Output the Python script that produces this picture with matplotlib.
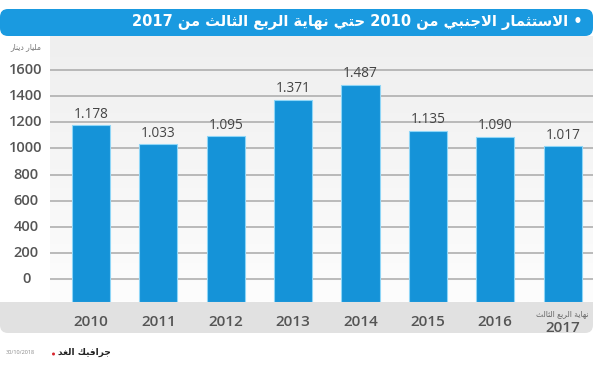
import matplotlib
matplotlib.use("Agg")
import matplotlib.pyplot as plt
import numpy as np
from matplotlib.patches import FancyBboxPatch, Rectangle, Circle

plt.rcParams['font.family'] = ['Open Sans', 'DejaVu Sans']

# البيانات
years = ['2010', '2011', '2012', '2013', '2014', '2015', '2016', '2017']
values = [1178, 1033, 1095, 1371, 1487, 1135, 1090, 1017]
value_labels = ['1.178', '1.033', '1.095', '1.371', '1.487', '1.135', '1.090', '1.017']
yticks = [0, 200, 400, 600, 800, 1000, 1200, 1400, 1600]

title = '• الاستثمار الاجنبي من 2010 حتي نهاية الربع الثالث من 2017'
unit = 'مليار دينار'
last_note = 'نهاية الربع الثالث'
credit = 'جرافيك الغد'
stamp = '30/10/2018'

# تشكيل النص العربي يدويا (matplotlib لا يدعم التشكيل ولا الاتجاه)
FORMS = {
    'ء': (0xFE80, 1), 'آ': (0xFE81, 2), 'أ': (0xFE83, 2), 'ؤ': (0xFE85, 2),
    'إ': (0xFE87, 2), 'ئ': (0xFE89, 4), 'ا': (0xFE8D, 2), 'ب': (0xFE8F, 4),
    'ة': (0xFE93, 2), 'ت': (0xFE95, 4), 'ث': (0xFE99, 4), 'ج': (0xFE9D, 4),
    'ح': (0xFEA1, 4), 'خ': (0xFEA5, 4), 'د': (0xFEA9, 2), 'ذ': (0xFEAB, 2),
    'ر': (0xFEAD, 2), 'ز': (0xFEAF, 2), 'س': (0xFEB1, 4), 'ش': (0xFEB5, 4),
    'ص': (0xFEB9, 4), 'ض': (0xFEBD, 4), 'ط': (0xFEC1, 4), 'ظ': (0xFEC5, 4),
    'ع': (0xFEC9, 4), 'غ': (0xFECD, 4), 'ف': (0xFED1, 4), 'ق': (0xFED5, 4),
    'ك': (0xFED9, 4), 'ل': (0xFEDD, 4), 'م': (0xFEE1, 4), 'ن': (0xFEE5, 4),
    'ه': (0xFEE9, 4), 'و': (0xFEED, 2), 'ى': (0xFEEF, 2), 'ي': (0xFEF1, 4),
}


def shape(text):
    chars = []
    i = 0
    while i < len(text):
        c = text[i]
        if c == 'ل' and i + 1 < len(text) and text[i + 1] == 'ا':
            chars.append('LA')
            i += 2
        else:
            chars.append(c)
            i += 1

    def dual(c):
        return c in FORMS and FORMS[c][1] == 4

    out = []
    for k, c in enumerate(chars):
        prev = chars[k - 1] if k > 0 else None
        nxt = chars[k + 1] if k + 1 < len(chars) else None
        jp = prev is not None and dual(prev)
        if c == 'LA':
            out.append(chr(0xFEFC if jp else 0xFEFB))
            continue
        if c not in FORMS:
            out.append(c)
            continue
        base, n = FORMS[c]
        jn = n == 4 and nxt is not None and (nxt in FORMS or nxt == 'LA')
        if n == 1:
            out.append(chr(base))
        elif jp and jn:
            out.append(chr(base + 3))
        elif jp:
            out.append(chr(base + 1))
        elif jn:
            out.append(chr(base + 2))
        else:
            out.append(chr(base))
    # ترتيب العرض من اليمين لليسار مع إبقاء الأرقام كما هي
    s = ''.join(out)[::-1]
    res, run = [], ''
    for ch in s:
        if ch.isdigit() or (run and ch in './'):
            run += ch
        else:
            if run:
                res.append(run[::-1])
                run = ''
            res.append(ch)
    if run:
        res.append(run[::-1])
    return ''.join(res)


fig = plt.figure(figsize=(6, 3.65), dpi=100)

# طبقة الخلفية بإحداثيات البكسل
bg = fig.add_axes([0, 0, 1, 1], zorder=0)
bg.set_xlim(0, 600)
bg.set_ylim(365, 0)
bg.axis('off')

grad = np.linspace(0, 1, 100).reshape(-1, 1)
bg.imshow(grad, cmap=matplotlib.colors.LinearSegmentedColormap.from_list('g', ['#efefef', '#fdfdfd']),
          extent=(50, 593, 302, 36), aspect='auto', zorder=0)

bg.add_patch(FancyBboxPatch((0, 9), 593, 27, boxstyle='round,pad=0,rounding_size=8',
                            fc='#1a9ae0', ec='none', zorder=2))
bg.add_patch(FancyBboxPatch((0, 302), 593, 31, boxstyle='round,pad=0,rounding_size=8',
                            fc='#e1e1e1', ec='none', zorder=1))
bg.add_patch(Rectangle((0, 302), 593, 10, fc='#e1e1e1', ec='none', zorder=1))

bg.text(583, 22.5, shape(title), color='white', fontsize=10.5, fontweight='bold',
        family='DejaVu Sans', ha='right', va='center', zorder=3)
bg.text(26, 47, shape(unit), color='#777777', fontsize=5.5,
        family='DejaVu Sans', ha='center', va='center')
bg.text(111, 352, shape(credit), color='#222222', fontsize=6.5, fontweight='bold',
        family='DejaVu Sans', ha='right', va='center')
bg.add_patch(Circle((53.5, 354), 1.5, fc='#d8262f', ec='none'))
bg.text(6, 352, stamp, color='#888888', fontsize=4, ha='left', va='center')

# المحاور الرئيسية
ax = fig.add_axes([50 / 600, 1 - 302 / 365, 543 / 600, 262 / 365], zorder=1)
ax.patch.set_alpha(0)
x = np.arange(len(years))
ax.set_xlim(-0.608, 7.45)
ax.set_ylim(-176, 1830)

for t in yticks:
    ax.axhline(t, color='#a9a9a9', lw=1.1, zorder=1)
    ax.text(-0.044, t, str(t), transform=ax.get_yaxis_transform(), ha='center', va='center',
            fontsize=10.5, color='#555555', fontweight='semibold')

bottom = ax.get_ylim()[0]
bars = ax.bar(x, np.array(values) - bottom, bottom=bottom, width=0.565,
              color='#1593d8', edgecolor='#8fd6f7', linewidth=0.8, zorder=2)

for xi, v, lab in zip(x, values, value_labels):
    ax.annotate(lab, (xi, v), xytext=(0, 2.5), textcoords='offset points', ha='center',
                va='bottom', fontsize=9.8, color='#444444')

for spine in ax.spines.values():
    spine.set_visible(False)
ax.set_xticks([])
ax.set_yticks([])

# تسميات السنوات في الشريط السفلي
for xi, yr in zip(x, years):
    px = 50 + (xi + 0.608) / (7.45 + 0.608) * 543
    if yr == years[-1]:
        bg.text(px, 328, yr, ha='center', va='center', fontsize=11, color='#555555',
                fontweight='semibold')
        bg.text(px, 314, shape(last_note), ha='center', va='center', fontsize=5.5,
                color='#666666', family='DejaVu Sans')
    else:
        bg.text(px, 322, yr, ha='center', va='center', fontsize=11, color='#555555',
                fontweight='semibold')

fig.savefig('out.png', dpi=100)
